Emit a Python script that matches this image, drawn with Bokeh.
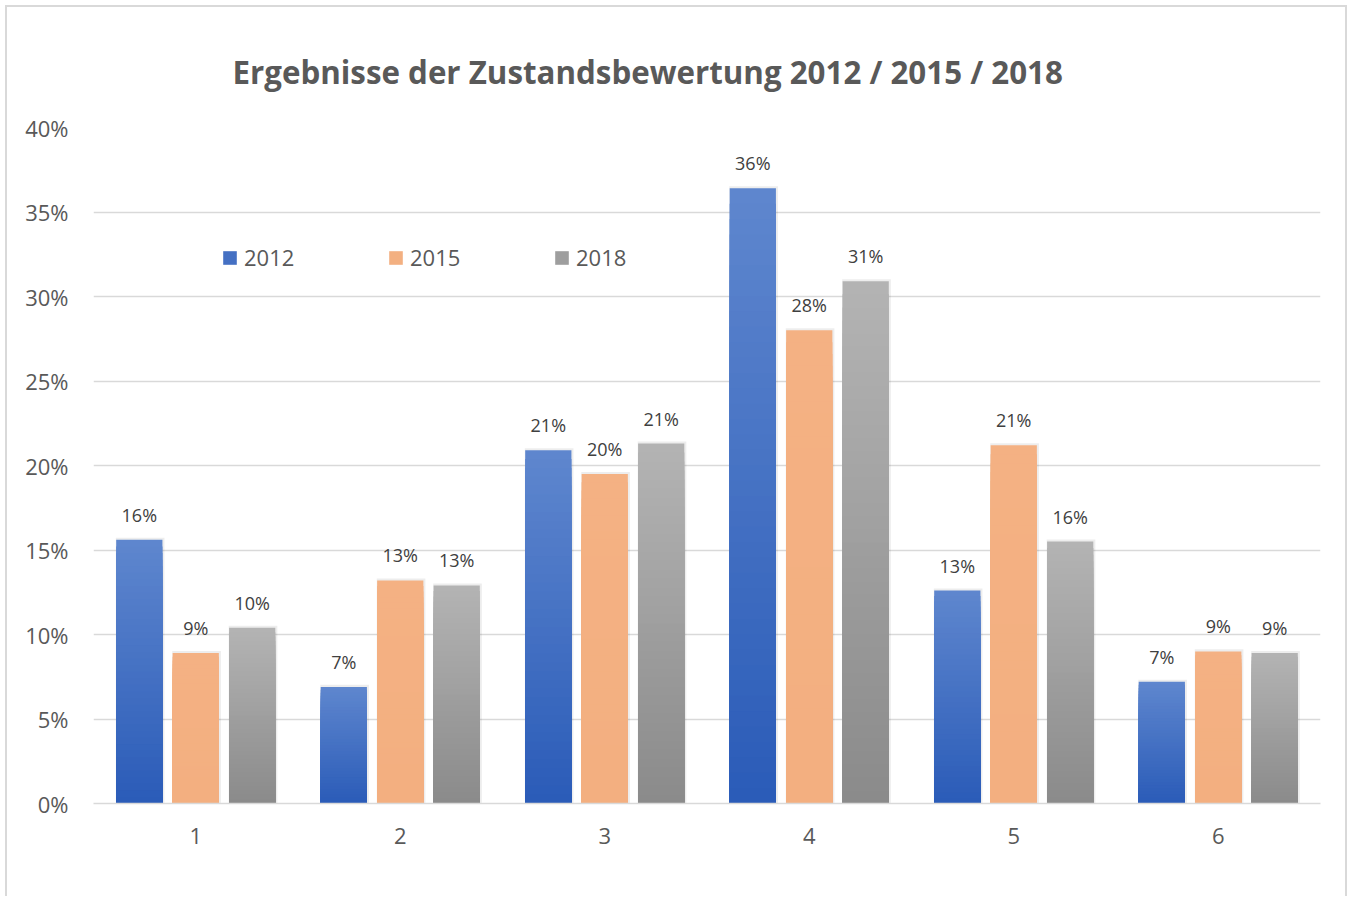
import numpy as np
from bokeh.plotting import figure
from bokeh.models import (ColumnDataSource, FixedTicker, PrintfTickFormatter, Legend,
                          LegendItem, LabelSet, Range1d)
from bokeh.transform import dodge
from bokeh.core.properties import value
from bokeh.embed import file_html
from bokeh.resources import INLINE

# ---------------- data ----------------
categories = ["1", "2", "3", "4", "5", "6"]
series_names = ["2012", "2015", "2018"]
values_2012 = [15.6, 6.9, 20.9, 36.4, 12.6, 7.2]
values_2015 = [8.9, 13.2, 19.5, 28.0, 21.2, 9.0]
values_2018 = [10.4, 12.9, 21.3, 30.9, 15.5, 8.9]
labels_2012 = ["16%", "7%", "21%", "36%", "13%", "7%"]
labels_2015 = ["9%", "13%", "20%", "28%", "21%", "9%"]
labels_2018 = ["10%", "13%", "21%", "31%", "16%", "9%"]
y_ticks = [0, 5, 10, 15, 20, 25, 30, 35, 40]
title_text = "Ergebnisse der Zustandsbewertung 2012 / 2015 / 2018"

# ---------------- style ----------------
FONT = "Open Sans"
TXT = "#595959"
GRID = "#d9d9d9"
# (top colour, bottom colour) of the vertical gradient
grad = {
    "2012": ("#5e86ce", "#2b5cb8"),
    "2015": ("#f4b183", "#f3af80"),
    "2018": ("#b3b3b3", "#8b8b8b"),
}
offsets = {"2012": -0.276, "2015": 0.0, "2018": 0.276}
BAR_W = 0.226
N_STEPS = 40

W, H = 1342, 891
p = figure(width=W, height=H, output_backend="svg", toolbar_location=None,
           x_range=Range1d(0.5, 6.5), y_range=Range1d(0, 40),
           min_border_left=86, min_border_right=29, min_border_top=120,
           min_border_bottom=95)
p.styles = {"border": "2px solid #d9d9d9", "border-bottom": "none",
            "margin-left": "5px", "margin-top": "5px"}
p.outline_line_color = None
p.background_fill_color = "white"
p.border_fill_color = "white"

p.title.text = title_text
p.title.text_font = FONT
p.title.text_font_size = "31.3px"
p.title.text_font_style = "bold"
p.title.text_color = TXT
p.title.align = "left"
p.title.offset = 139
p.title.standoff = 69

# grid
p.xgrid.grid_line_color = None
p.ygrid.grid_line_color = GRID
p.ygrid.grid_line_width = 1.5

# axes
p.yaxis.ticker = FixedTicker(ticks=y_ticks)
p.yaxis.formatter = PrintfTickFormatter(format="%d%%")
p.yaxis.axis_line_color = None
p.yaxis.major_tick_line_color = None
p.yaxis.minor_tick_line_color = None
p.yaxis.major_label_text_font = FONT
p.yaxis.major_label_text_font_size = "22px"
p.yaxis.major_label_text_color = TXT
p.yaxis.major_label_standoff = 19

p.xaxis.ticker = FixedTicker(ticks=list(range(1, len(categories) + 1)))
p.xaxis.major_label_overrides = {i + 1: c for i, c in enumerate(categories)}
p.xaxis.axis_line_color = GRID
p.xaxis.axis_line_width = 1.5
p.xaxis.major_tick_line_color = None
p.xaxis.minor_tick_line_color = None
p.xaxis.major_label_text_font = FONT
p.xaxis.major_label_text_font_size = "22px"
p.xaxis.major_label_text_color = TXT
p.xaxis.major_label_standoff = 18


def interp(c1, c2, t):
    a = np.array([int(c1[i:i + 2], 16) for i in (1, 3, 5)], dtype=float)
    b = np.array([int(c2[i:i + 2], 16) for i in (1, 3, 5)], dtype=float)
    c = a + (b - a) * t
    return "#%02x%02x%02x" % tuple(int(round(v)) for v in c)


all_values = {"2012": values_2012, "2015": values_2015, "2018": values_2018}
all_labels = {"2012": labels_2012, "2015": labels_2015, "2018": labels_2018}
cat_pos = list(range(1, len(categories) + 1))

legend_items = []
for name in series_names:
    vals = all_values[name]
    top_c, bot_c = grad[name]
    # soft shadow
    sh = ColumnDataSource(dict(x=cat_pos, top=[v + 0.12 for v in vals]))
    p.vbar(x=dodge("x", offsets[name] + 0.004, range=p.x_range), top="top", bottom=0,
           width=BAR_W + 0.012, source=sh, fill_color="#000000", fill_alpha=0.07,
           line_color=None)
    # gradient: nested bars, each shorter one painted over the taller one
    xs, tops, cols = [], [], []
    for k in range(N_STEPS):
        frac = 1 - k / N_STEPS
        col = interp(top_c, bot_c, k / (N_STEPS - 1))
        for x, v in zip(cat_pos, vals):
            xs.append(x)
            tops.append(v * frac)
            cols.append(col)
    src = ColumnDataSource(dict(x=xs, top=tops, color=cols))
    r = p.vbar(x=dodge("x", offsets[name], range=p.x_range), top="top", bottom=0,
               width=BAR_W, source=src, fill_color="color", line_color=None)
    mid_index = (N_STEPS // 2) * len(cat_pos)
    legend_items.append(LegendItem(label=name, renderers=[r], index=mid_index))

    lsrc = ColumnDataSource(dict(x=cat_pos, y=vals, text=all_labels[name]))
    p.add_layout(LabelSet(x=dodge("x", offsets[name], range=p.x_range), y="y",
                          text="text", source=lsrc, text_align="center",
                          text_baseline="alphabetic", y_offset=18,
                          text_font=value(FONT), text_font_size="18px",
                          text_color="#404040"))

legend = Legend(items=legend_items, orientation="horizontal", location=(128, 531),
                glyph_width=17, glyph_height=17, label_standoff=6, label_width=138,
                spacing=5, padding=0, margin=0, border_line_color=None,
                background_fill_alpha=0, label_text_font=FONT,
                label_text_font_size="22px", label_text_color=TXT)
p.add_layout(legend)

open("out.html", "w").write(file_html(p, INLINE))
